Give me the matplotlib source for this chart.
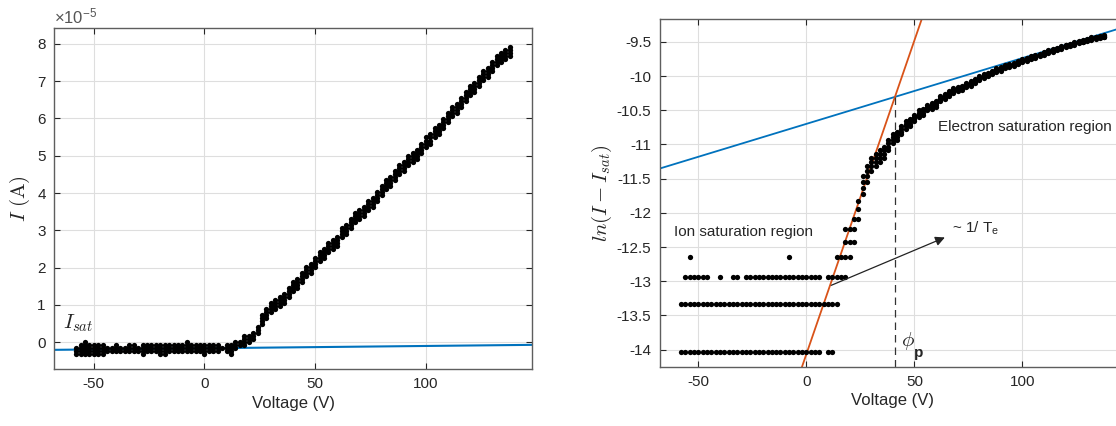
import numpy as np
import matplotlib
matplotlib.use("Agg")
import matplotlib.pyplot as plt
from matplotlib.ticker import FuncFormatter

plt.rcParams['font.family'] = ['Liberation Sans', 'DejaVu Sans']
plt.rcParams['axes.unicode_minus'] = False
plt.rcParams['mathtext.fontset'] = 'custom'
plt.rcParams['mathtext.rm'] = 'Liberation Sans'
plt.rcParams['mathtext.it'] = 'Liberation Sans:italic'
plt.rcParams['mathtext.bf'] = 'Liberation Sans:bold'

# probe sweep voltages (V)
voltage = [-58, -56, -54, -52, -50, -48, -46, -44, -42, -40, -38, -36, -34, -32, -30,
           -28, -26, -24, -22, -20, -18, -16, -14, -12, -10, -8, -6, -4, -2, 0,
           2, 4, 6, 8, 10, 12, 14, 16, 18, 20, 22, 24, 26, 28, 30, 32, 34, 36, 38, 40,
           42, 44, 46, 48, 50, 52, 54, 56, 58, 60, 62, 64, 66, 68, 70, 72, 74, 76, 78, 80,
           82, 84, 86, 88, 90, 92, 94, 96, 98, 100, 102, 104, 106, 108, 110, 112, 114, 116,
           118, 120, 122, 124, 126, 128, 130, 132, 134, 136, 138]

# lowest / highest ADC level recorded at each voltage (levels above I_sat)
level_lo = [0, 0, 0, 0, 0, 0, 0, 1, 1, 1, 1, 1, 1, 1, 1,
            0, 1, 1, 1, 0, 0, 1, 1, 1, 1, 1, 1, 1, 1, 0,
            1, 1, 1, 2, 1, 0, 2, 3, 3, 4, 5, 7, 10, 12, 14, 15, 16, 17, 19, 21,
            22, 24, 26, 27, 29, 31, 32, 34, 35, 36, 39, 40, 42, 44, 45, 46, 48, 49, 51, 53,
            55, 56, 58, 60, 61, 63, 64, 65, 67, 69, 70, 72, 73, 75, 77, 79, 80, 82,
            84, 86, 87, 89, 91, 92, 94, 96, 97, 98, 99]
level_hi = [2, 3, 4, 3, 3, 3, 3, 2, 2, 3, 2, 2, 3, 3, 2,
            3, 3, 3, 3, 3, 3, 3, 3, 3, 3, 4, 3, 3, 3, 3,
            3, 3, 3, 2, 3, 3, 4, 4, 6, 6, 7, 9, 13, 15, 17, 18, 19, 20, 22, 24,
            25, 27, 29, 30, 32, 34, 35, 37, 38, 39, 42, 43, 45, 47, 48, 49, 51, 52, 54, 56,
            58, 59, 61, 63, 64, 66, 67, 68, 70, 72, 73, 75, 76, 78, 80, 82, 83, 85,
            87, 89, 90, 92, 94, 95, 97, 99, 100, 101, 102]

I_SAT = -3.2e-6      # ion saturation current (A)
I_STEP = 8.07e-7     # current resolution (A)

isat_fit = [6.2e-9, -1.64e-6]     # slope, intercept of I_sat line (A)
te_fit = [0.0917, -14.064]        # transition region fit of ln(I - I_sat)
esat_fit = [0.00962, -10.699]     # electron saturation fit of ln(I - I_sat)

# expand to individual samples
v_pts, i_pts = [], []
for v, lo, hi in zip(voltage, level_lo, level_hi):
    for n in range(lo, hi + 1):
        v_pts.append(v)
        i_pts.append(I_SAT + n * I_STEP)
v_pts = np.array(v_pts, dtype=float)
i_pts = np.array(i_pts)

blue = '#0072BD'
red = '#D95319'
txt = '#262626'
gridc = '#dedede'

fig = plt.figure(figsize=(11.16, 4.26), dpi=100)
ax1 = fig.add_axes([0.0484, 0.1338, 0.4283, 0.7998])
ax2 = fig.add_axes([0.5910, 0.1392, 0.4180, 0.8155])

for ax in (ax1, ax2):
    ax.grid(True, color=gridc, linewidth=0.8)
    ax.set_axisbelow(True)
    ax.tick_params(direction='in', length=4, width=0.8, colors=txt, labelsize=11,
                   top=True, right=True, pad=6)
    for s in ax.spines.values():
        s.set_color('#5e5e5e')
        s.set_linewidth(1.0)
    ax.set_xlim(-68, 148)
    ax.set_xticks([-50, 0, 50, 100])
    ax.set_xlabel('Voltage (V)', fontsize=12, color=txt, labelpad=3)

# left: I-V characteristic
xs = np.array([-68, 148])
ax1.plot(xs, isat_fit[0] * xs + isat_fit[1], color=blue, linewidth=1.5, zorder=2)
ax1.plot(v_pts, i_pts, 'o', color='black', markersize=3.8, markeredgewidth=0, zorder=3)
ax1.set_ylim(-0.72e-5, 8.42e-5)
ax1.set_yticks(np.arange(0, 9) * 1e-5)
ax1.yaxis.set_major_formatter(FuncFormatter(lambda y, p: f'{y * 1e5:.0f}'))
ax1.set_ylabel(r'$I\ (\mathrm{A})$', fontsize=15, color=txt, math_fontfamily='cm', labelpad=4)
ax1.text(0.0, 1.006, r'$\times\mathregular{10^{-5}}$', transform=ax1.transAxes,
         fontsize=12, color='#555555', ha='left', va='bottom')
ax1.text(-64, 0.38e-5, r'$I_{sat}$', fontsize=15, color=txt, math_fontfamily='cm')

# right: ln(I - I_sat)
mask = i_pts - I_SAT > I_STEP / 2
ln_pts = np.log(i_pts[mask] - I_SAT)
ax2.plot(xs, esat_fit[0] * xs + esat_fit[1], color=blue, linewidth=1.3, zorder=2)
xr = np.array([-20, 80])
ax2.plot(xr, te_fit[0] * xr + te_fit[1], color=red, linewidth=1.3, zorder=2)
ax2.plot(v_pts[mask], ln_pts, 'o', color='black', markersize=3.8, markeredgewidth=0, zorder=3)

phi_p = (esat_fit[1] - te_fit[1]) / (te_fit[0] - esat_fit[0])
ln_phi = esat_fit[0] * phi_p + esat_fit[1]
ax2.plot([phi_p, phi_p], [-14.25, ln_phi], color='#333333', linewidth=0.9,
         linestyle=(0, (6, 4)), zorder=2)

ax2.set_ylim(-14.25, -9.17)
ax2.set_yticks(np.arange(-14, -9.4, 0.5))
ax2.yaxis.set_major_formatter(FuncFormatter(lambda y, p: f'{y:g}'))
ax2.set_ylabel(r'$ln(I - I_{sat})$', fontsize=15, color=txt, math_fontfamily='cm', labelpad=2)

ax2.text(60.8, -10.74, 'Electron saturation region', fontsize=11, color=txt, va='center')
ax2.text(-61.2, -12.28, 'Ion saturation region', fontsize=11, color=txt, va='center')
ax2.annotate('', xy=(64.1, -12.36), xytext=(11.5, -13.06),
             arrowprops=dict(arrowstyle='-|>', color='#222222', lw=0.9,
                             mutation_scale=14, shrinkA=0, shrinkB=0))
ax2.text(67.4, -12.23, r'~ 1/ T$_\mathregular{e}$', fontsize=11, color=txt, va='center')
ax2.text(44.0, -13.88, r'$\phi$', fontsize=15, color=txt, math_fontfamily='cm', va='center')
ax2.text(50.0, -14.05, 'p', fontsize=11, color=txt, fontweight='bold', va='center')

fig.savefig('out.png', dpi=100)
